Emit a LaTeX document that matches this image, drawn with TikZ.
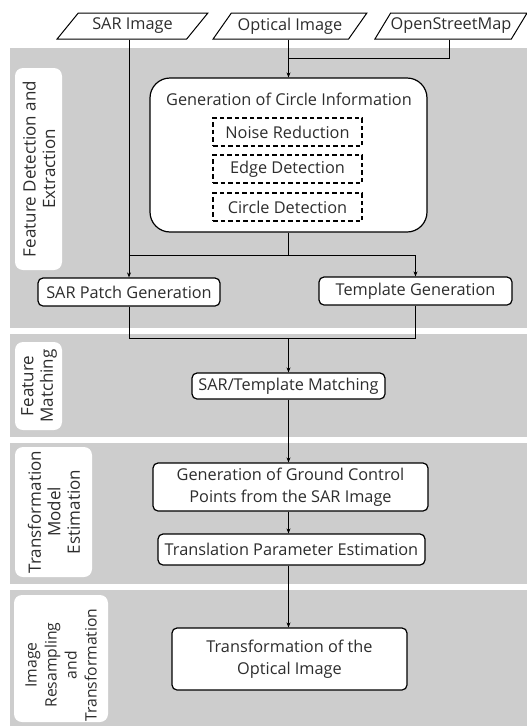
\documentclass[tikz,border=0pt]{standalone}
\usepackage{fontspec}
\setmainfont{Open Sans}
\usetikzlibrary{shapes.geometric,arrows.meta}
\definecolor{band}{RGB}{205,205,205}
\definecolor{ink}{RGB}{45,45,45}
\tikzset{
  bandbox/.style={fill=band,draw=none},
  labelbox/.style={fill=white,draw=none,rounded corners=8pt},
  labeltext/.style={rotate=90,align=center,font=\fontsize{17}{19.5}\selectfont,text=ink,inner sep=0pt},
  procbox/.style={draw=black,line width=1.2pt,fill=white,rounded corners=5pt,align=center,
    font=\fontsize{16.3}{22}\selectfont,text=ink,inner sep=0pt},
  subbox/.style={draw=black,line width=1.1pt,dashed,dash pattern=on 4.5pt off 3pt,fill=white,
    font=\fontsize{16.3}{20}\selectfont,text=ink,inner sep=0pt,minimum width=149pt,minimum height=28pt},
  databox/.style={trapezium,trapezium left angle=45,trapezium right angle=135,trapezium stretches=true,
    draw=black,line width=1pt,fill=white,font=\fontsize{16.3}{20}\selectfont,text=ink,inner sep=0pt},
  conn/.style={draw=black,line width=0.8pt},
  arr/.style={conn,-{Stealth[length=5pt,width=4pt]}}
}
\begin{document}
\begin{tikzpicture}[x=1pt,y=-1pt]
\useasboundingbox (0,0) rectangle (527,726);
\fill[white] (0,0) rectangle (527,726);
% bands
\path[bandbox] (10,48) rectangle (527,328);
\path[bandbox] (10,334) rectangle (527,437);
\path[bandbox] (10,443) rectangle (527,584);
\path[bandbox] (10,590) rectangle (527,726);
% band labels
\path[labelbox] (15,68) rectangle (62,270);
\node[labeltext] (l1) at (39,169) {Feature Detection and\\Extraction};
\path[labelbox] (15,342) rectangle (62,430);
\node[labeltext] (l2) at (39,386) {Feature\\Matching};
\path[labelbox] (15,447) rectangle (92,577);
\node[labeltext] (l3) at (54,512) {Transformation\\Model\\Estimation};
\path[labelbox] (14,595) rectangle (108,722);
\node[labeltext,font=\fontsize{15.7}{20}\selectfont] (l4) at (61,665) {Image\\Resampling\\and\\Transformation};
% inputs
\node[databox,minimum width=151pt,minimum height=26pt] (sar) at (132.5,26) {SAR Image};
\node[databox,minimum width=154pt,minimum height=26pt] (opt) at (290,26) {Optical Image};
\node[databox,minimum width=152pt,minimum height=26pt] (osm) at (451,26) {OpenStreetMap};
% circle information
\node[procbox,rounded corners=20pt,minimum width=277pt,minimum height=154pt] (circ) at (288.5,155) {};
\node[font=\fontsize{16.3}{20}\selectfont,text=ink,inner sep=0pt] (circt) at (289,99) {Generation of Circle Information};
\node[subbox] (noise) at (287.5,132) {Noise Reduction};
\node[subbox] (edge) at (287.5,169) {Edge Detection};
\node[subbox] (cdet) at (287.5,207) {Circle Detection};
% generation
\node[procbox,minimum width=182pt,minimum height=28pt] (patch) at (129,292) {SAR Patch Generation};
\node[procbox,minimum width=193pt,minimum height=28pt] (tmpl) at (415.5,291) {Template Generation};
\node[procbox,minimum width=193pt,minimum height=26pt] (match) at (288.5,386) {SAR/Template Matching};
\node[procbox,minimum width=275pt,minimum height=48pt] (gcp) at (290.5,487) {Generation of Ground Control\\Points from the SAR Image};
\node[procbox,minimum width=267pt,minimum height=31pt] (trans) at (291.5,549.5) {Translation Parameter Estimation};
\node[procbox,minimum width=235pt,minimum height=62pt] (final) at (289.5,659) {Transformation of the\\Optical Image};
% junctions
\coordinate (j1) at (288.5,58);
\coordinate (j2) at (288.5,255);
\coordinate (j3) at (288.5,338);
% connectors
\draw[arr] (patch.north |- sar.south) -- (patch.north);
\draw[arr] (circ.north |- opt.south) -- (circ.north);
\draw[conn] (osm.south -| 449,0) |- (j1);
\draw[conn] (circ.south) -- (j2);
\draw[conn] (j2) -- (patch.north |- j2);
\draw[arr] (j2) -| (tmpl.north);
\draw[conn] (patch.south) |- (j3);
\draw[conn] (tmpl.south) |- (j3);
\draw[arr] (j3) -- (match.north);
\draw[arr] (match.south) -- (match.south |- gcp.north);
\draw[arr] (match.south |- gcp.south) -- (match.south |- trans.north);
\draw[arr] (match.south |- trans.south) -- (match.south |- final.north);
\end{tikzpicture}
\end{document}
